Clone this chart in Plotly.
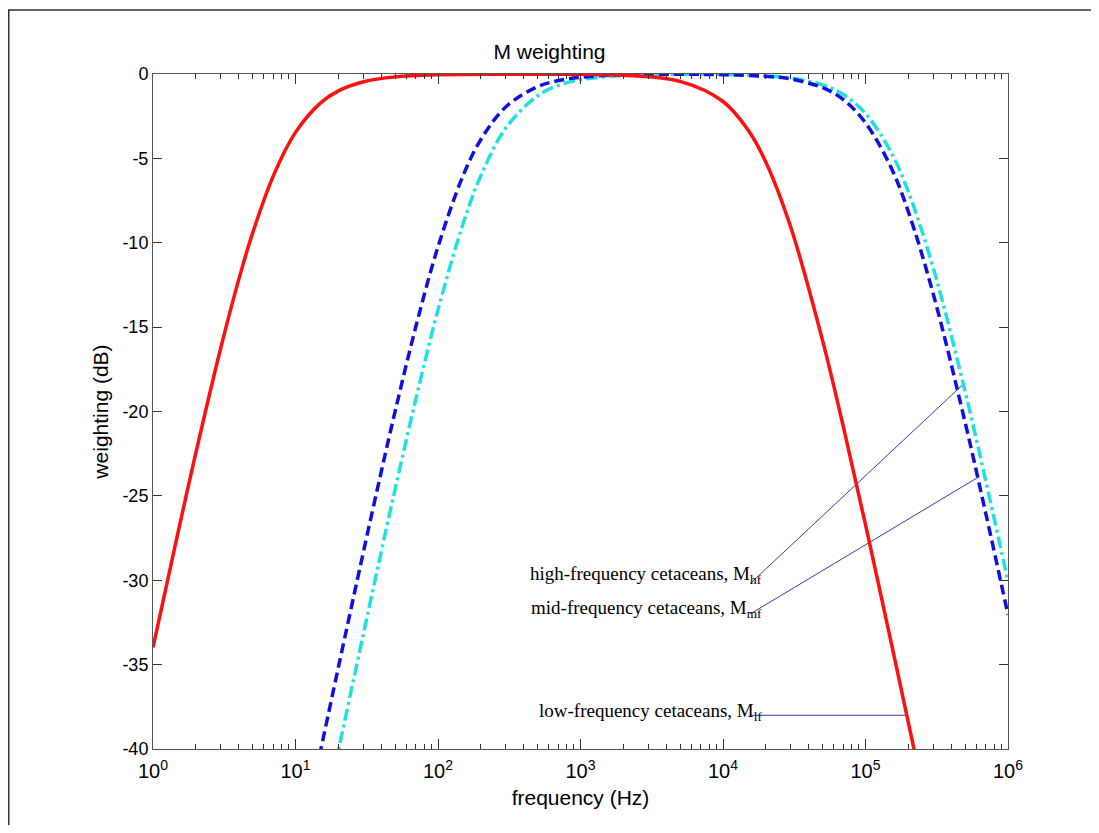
import math
import plotly.graph_objects as go

# ---------------- data ----------------
freq_lf = [1, 1.5, 2, 3, 4, 5, 7, 10, 15, 20, 30, 50, 100, 300, 1000, 2000,
           5000, 10000, 15000, 20000, 30000, 50000, 70000, 100000, 150000,
           200000, 220000, 300000]
db_lf = [-33.98, -27.15, -22.44, -16.18, -12.17, -9.43, -6.02, -3.46, -1.71,
         -1.00, -0.46, -0.17, -0.04, -0.01, -0.02, -0.07, -0.44, -1.63, -3.32,
         -5.23, -9.13, -15.80, -20.93, -26.71, -33.53, -38.45, -40.09, -45.43]

freq_mf = [14, 15, 20, 30, 40, 50, 70, 100, 150, 200, 300, 500, 700, 1000,
           2000, 5000, 10000, 20000, 30000, 50000, 70000, 100000, 150000,
           200000, 300000, 500000, 700000, 1000000]
db_mf = [-41.27, -40.09, -35.15, -28.30, -23.56, -20.00, -14.95, -10.24,
         -6.02, -3.88, -1.94, -0.75, -0.39, -0.19, -0.05, -0.02, -0.04, -0.14,
         -0.30, -0.81, -1.52, -2.90, -5.48, -8.17, -13.09, -20.64, -26.08,
         -32.05]

freq_hf = [19, 20, 30, 40, 50, 70, 100, 150, 200, 300, 500, 700, 1000, 2000,
           5000, 10000, 20000, 30000, 50000, 70000, 100000, 150000, 200000,
           300000, 500000, 700000, 1000000]
db_hf = [-40.97, -40.09, -33.15, -28.30, -24.61, -19.24, -13.98, -8.87, -6.02,
         -3.19, -1.29, -0.68, -0.34, -0.09, -0.02, -0.03, -0.11, -0.24, -0.65,
         -1.22, -2.34, -4.58, -6.98, -11.54, -18.81, -24.15, -30.07]

# annotation labels and their leader lines (frequency, dB)
label_hf = "high-frequency cetaceans, M<sub>hf</sub>"
label_mf = "mid-frequency cetaceans, M<sub>mf</sub>"
label_lf = "low-frequency cetaceans, M<sub>lf</sub>"
lead_hf_f = [15500, 483000]
lead_hf_db = [-30.2, -18.4]
lead_mf_f = [15500, 616000]
lead_mf_db = [-32.0, -23.9]
lead_lf_f = [15500, 195000]
lead_lf_db = [-38.0, -38.0]
label_pos_f = 19500
label_pos_db = [-29.7, -31.7, -37.8]

# axis ticks
x_tickvals = [1, 10, 100, 1000, 10000, 100000, 1000000]
x_ticktext = ["10<sup>0</sup>", "10<sup>1</sup>", "10<sup>2</sup>",
              "10<sup>3</sup>", "10<sup>4</sup>", "10<sup>5</sup>",
              "10<sup>6</sup>"]
x_minor = [m * d for d in [1, 10, 100, 1000, 10000, 100000] for m in range(2, 10)]
y_tickvals = [0, -5, -10, -15, -20, -25, -30, -35, -40]
y_ticktext = ["0", "-5", "-10", "-15", "-20", "-25", "-30", "-35", "-40"]

# ---------------- figure ----------------
# page body has an 8px margin: keep the figure inside the viewport (no scrollbars)
W, H = 1083, 817
ML, MR, MT, MB = 145, 83, 66, 76
PW, PH = W - ML - MR, H - MT - MB

fig = go.Figure()

lead_color = "#3b3ba8"
for fx, fy in [(lead_hf_f, lead_hf_db), (lead_mf_f, lead_mf_db), (lead_lf_f, lead_lf_db)]:
    fig.add_trace(go.Scatter(x=fx, y=fy, mode="lines",
                             line=dict(color=lead_color, width=1),
                             hoverinfo="skip", showlegend=False))

fig.add_trace(go.Scatter(x=freq_hf, y=db_hf, mode="lines", line_shape="spline",
                         line=dict(color="#20e0e0", width=3.5, dash="12px,4px,3px,4px"),
                         showlegend=False))
fig.add_trace(go.Scatter(x=freq_mf, y=db_mf, mode="lines", line_shape="spline",
                         line=dict(color="#1010e0", width=3.5, dash="10px,5px"),
                         showlegend=False))
fig.add_trace(go.Scatter(x=freq_lf, y=db_lf, mode="lines", line_shape="spline",
                         line=dict(color="#ff1010", width=3.5),
                         showlegend=False))

for txt, yv in zip([label_hf, label_mf, label_lf], label_pos_db):
    fig.add_annotation(x=math.log10(label_pos_f), y=yv, xref="x", yref="y",
                       text=txt, showarrow=False, xanchor="right", yanchor="middle",
                       font=dict(family="Liberation Serif", size=19, color="black"))

axis_common = dict(showgrid=False, zeroline=False, showline=True, linecolor="#555",
                   linewidth=1, mirror="ticks", ticks="inside", tickcolor="#333")

fig.update_xaxes(type="log", range=[0, 6], tickmode="array", tickvals=x_tickvals,
                 ticktext=x_ticktext, ticklen=10, ticklabelstandoff=4,
                 tickfont=dict(family="Liberation Sans", size=20, color="black"),
                 minor=dict(tickmode="array", tickvals=x_minor, ticks="inside",
                            ticklen=5, tickcolor="#333"),
                 title=dict(text="frequency (Hz)", standoff=9,
                            font=dict(family="Liberation Sans", size=21, color="black")),
                 **axis_common)
fig.update_yaxes(range=[-40, 0], tickmode="array", tickvals=y_tickvals,
                 ticktext=y_ticktext, ticklen=9,
                 tickfont=dict(family="Liberation Sans", size=18, color="black"),
                 title=dict(text="weighting (dB)", standoff=8,
                            font=dict(family="Liberation Sans", size=21, color="black")),
                 **axis_common)

# outer frame: only its left and top edges fall inside the picture
fx0 = (0.75 - ML) / PW
fx1 = (W + 20 - ML) / PW
fy0 = -(MB + 20) / PH
fy1 = (PH + MT - 2) / PH
fig.add_shape(type="path", xref="paper", yref="paper",
              path=f"M {fx0},{fy0} L {fx0},{fy1} L {fx1},{fy1}",
              line=dict(color="#333", width=1.5), layer="below")

fig.update_layout(
    width=W, height=H,
    margin=dict(l=ML, r=MR, t=MT, b=MB),
    paper_bgcolor="white", plot_bgcolor="white",
    title=dict(text="M weighting", x=0.5, xanchor="center", y=1 - 44 / H, yanchor="middle",
               font=dict(family="Liberation Sans", size=21, color="black")),
)

fig.write_html("out.html")
